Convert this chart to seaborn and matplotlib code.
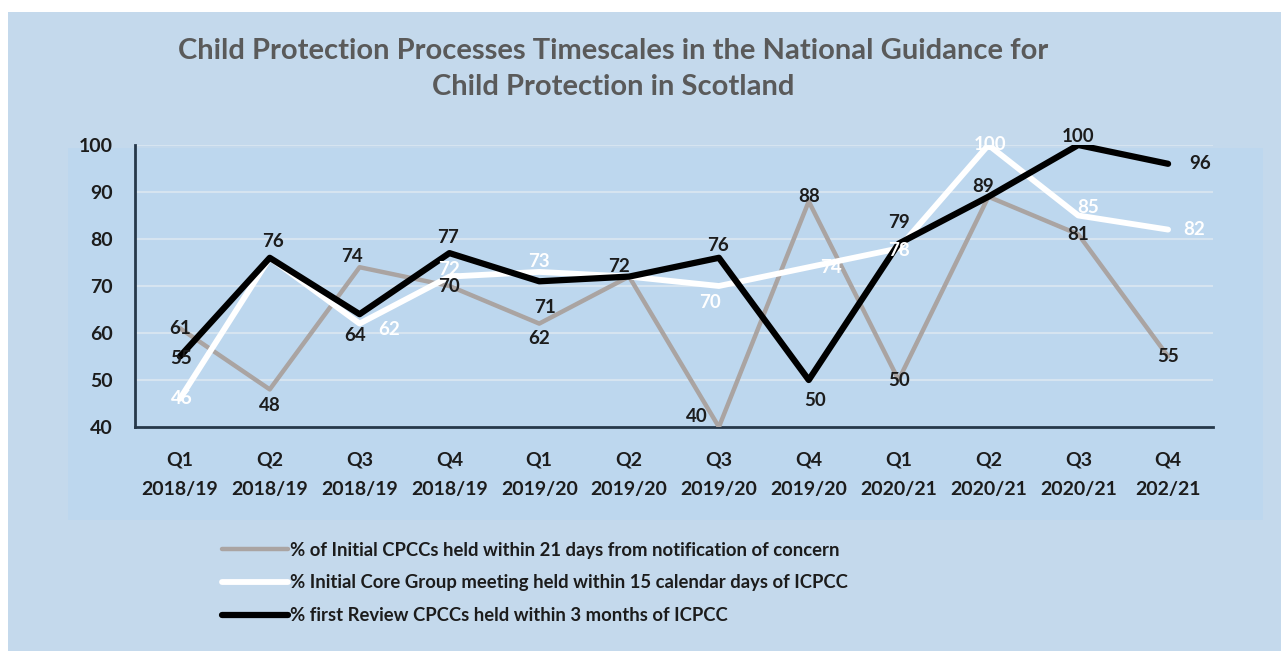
import pandas as pd
import seaborn as sns
import matplotlib.pyplot as plt
from matplotlib.patches import Rectangle
from matplotlib.lines import Line2D

quarters = ["Q1\n2018/19", "Q2\n2018/19", "Q3\n2018/19", "Q4\n2018/19",
            "Q1\n2019/20", "Q2\n2019/20", "Q3\n2019/20", "Q4\n2019/20",
            "Q1\n2020/21", "Q2\n2020/21", "Q3\n2020/21", "Q4\n202/21"]
initial_cpcc = [61, 48, 74, 70, 62, 72, 40, 88, 50, 89, 81, 55]
core_group = [46, 76, 62, 72, 73, 72, 70, 74, 78, 100, 85, 82]
review_cpcc = [55, 76, 64, 77, 71, 72, 76, 50, 79, 89, 100, 96]

names = ["% of Initial CPCCs held within 21 days from notification of concern",
         "% Initial Core Group meeting held within 15 calendar days of ICPCC",
         "% first Review CPCCs held within 3 months of ICPCC"]

# label offsets in pixels (None = label hidden in the original)
off_gray = [(0, 0), (0, -16), (-8, 11), (0, 0), (0, -15), (-10, 10),
            (-22, 10), (0, 5), (0, 0), (-5, 10), (0, 0), (0, 0)]
off_white = [(2, 0), None, (30, -6), (0, 7), (0, 10), None,
             (-9, -17), (22, 0), (0, -2), (2, 0), (10, 8), (26, 0)]
off_black = [(1, -2), (3, 16), (-4, -21), (-1, 16), (6, -26), None,
             (-1, 12), (6, -20), (0, 21), None, (0, 8), (32, 0)]

bg = "#c4d9ec"
sns.set_style("white")
plt.rcParams['font.family'] = ['Lato', 'DejaVu Sans']

fig = plt.figure(figsize=(12.81, 6.51), dpi=100)
fig.patch.set_facecolor("white")
fig.add_artist(Rectangle((8 / 1281, 0), 1, 1 - 12 / 651, transform=fig.transFigure,
                         facecolor=bg, edgecolor="none", zorder=-10))
fig.add_artist(Rectangle((68 / 1281, 1 - 520 / 651), 1195 / 1281, 372 / 651,
                         transform=fig.transFigure, facecolor="#bdd7ee",
                         edgecolor="none", zorder=-9))

ax = fig.add_axes([135 / 1281, 1 - 427 / 651, 1078 / 1281, 282 / 651])
ax.set_facecolor("none")

df = pd.DataFrame({"quarter": quarters, "gray": initial_cpcc,
                   "white": core_group, "black": review_cpcc})

series = [("gray", "#aaa4a2", 3.2, off_gray, "#1c1c1c"),
          ("white", "white", 4.2, off_white, "white"),
          ("black", "black", 4.5, off_black, "#1c1c1c")]

for col, colr, lw, offs, tcol in series:
    sns.lineplot(data=df, x="quarter", y=col, color=colr, linewidth=lw,
                 ax=ax, sort=False, zorder=3)

for col, colr, lw, offs, tcol in series:
    for i, v in enumerate(df[col]):
        if offs[i] is None:
            continue
        ax.annotate(str(v), (i, v), xytext=offs[i], textcoords="offset pixels",
                    ha="center", va="center", fontsize=13.5, fontweight="bold",
                    color=tcol, zorder=5)

ax.set_ylim(40, 100)
ax.set_xlim(-0.5, 11.5)
ax.set_yticks(range(40, 101, 10))
for y in range(50, 101, 10):
    ax.axhline(y, color="#d6e4f0", linewidth=1.5, zorder=1)
ax.set_xlabel("")
ax.set_ylabel("")
ax.tick_params(axis="both", length=0, labelsize=14, colors="#1c1c1c")
ax.tick_params(axis="x", pad=18)
ax.tick_params(axis="y", pad=16)
for lab in ax.get_xticklabels() + ax.get_yticklabels():
    lab.set_fontweight("bold")
ax.set_xticks(range(len(quarters)))
ax.set_xticklabels(quarters, fontweight="bold", linespacing=1.85)
for s in ["top", "right"]:
    ax.spines[s].set_visible(False)
for s in ["left", "bottom"]:
    ax.spines[s].set_color("#26384a")
    ax.spines[s].set_linewidth(2)

fig.text(613 / 1281, 1 - 69 / 651,
         "Child Protection Processes Timescales in the National Guidance for\nChild Protection in Scotland",
         ha="center", va="center", fontsize=21, fontweight="bold",
         color="#5a5a5a", linespacing=1.5)

handles = [Line2D([0], [0], color=c, linewidth=lw) for _, c, lw, _, _ in series]
leg = fig.legend(handles, names, loc="upper left",
                 bbox_to_anchor=(205 / 1281, 1 - 525 / 651), frameon=False,
                 handlelength=3.6, handletextpad=0.1, labelspacing=0.85,
                 prop={"size": 13.3, "weight": "bold"})
for t in leg.get_texts():
    t.set_color("#1c1c1c")

fig.savefig("out.png", dpi=100, facecolor=fig.get_facecolor())
